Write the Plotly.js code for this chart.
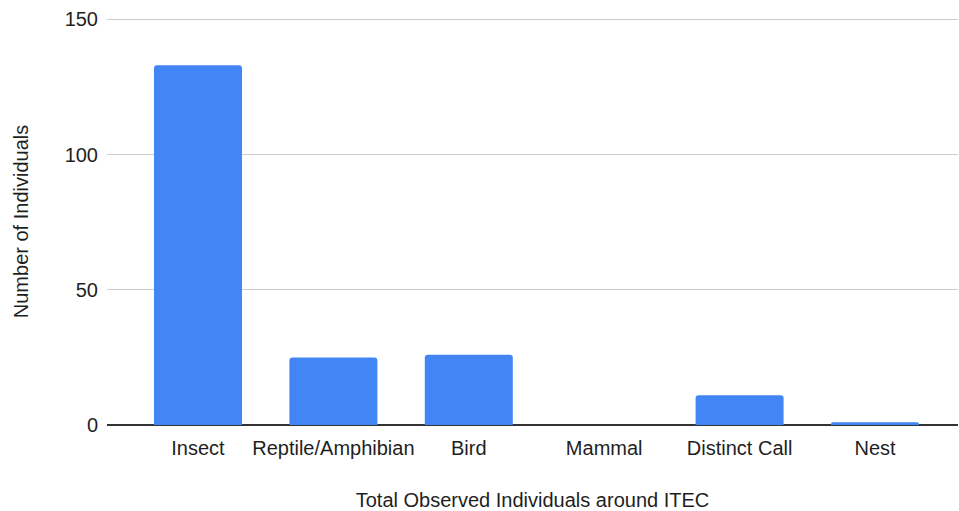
<!DOCTYPE html>
<html>
<head>
<meta charset="utf-8">
<script src="https://cdn.plot.ly/plotly-3.0.1.min.js"></script>
<style>
  html, body { margin: 0; padding: 0; background: #ffffff; }
  #chart { width: 959px; height: 511px; }
</style>
</head>
<body>
<div id="chart"></div>
<script>
// Observed individuals by group around ITEC
const categories = ["Insect", "Reptile/Amphibian", "Bird", "Mammal", "Distinct Call", "Nest"];
const counts = [133, 25, 26, 0, 11, 1];
const yTickValues = [0, 50, 100, 150];

const trace = {
  type: "bar",
  x: categories,
  y: counts,
  marker: { color: "#4285F4", cornerradius: 3 },
  hoverinfo: "x+y"
};

const fontFamily = "Arial, 'Liberation Sans', sans-serif";

const layout = {
  width: 959,
  height: 511,
  margin: { l: 107, r: 1, t: 18, b: 86 },
  paper_bgcolor: "#ffffff",
  plot_bgcolor: "#ffffff",
  bargap: 0.35,
  showlegend: false,
  font: { family: fontFamily, size: 20, color: "#1f1f1f" },
  xaxis: {
    type: "category",
    range: [-0.672, 5.613],
    showgrid: false,
    showline: false,
    ticks: "",
    tickfont: { size: 20, color: "#1f1f1f" },
    ticklabelstandoff: 9,
    title: { text: "Total Observed Individuals around ITEC", font: { size: 20, color: "#1f1f1f" }, standoff: 38 },
    automargin: false
  },
  yaxis: {
    range: [0, 150.5],
    tickvals: yTickValues,
    showgrid: true,
    gridcolor: "#cccccc",
    gridwidth: 1,
    zeroline: true,
    zerolinecolor: "#333333",
    zerolinewidth: 2,
    showline: false,
    ticks: "",
    tickfont: { size: 20, color: "#1f1f1f" },
    ticklabelstandoff: 8,
    title: { text: "Number of Individuals", font: { size: 20, color: "#1f1f1f" }, standoff: 30 },
    automargin: false
  }
};

Plotly.newPlot("chart", [trace], layout, { displayModeBar: false, staticPlot: true });
</script>
</body>
</html>
